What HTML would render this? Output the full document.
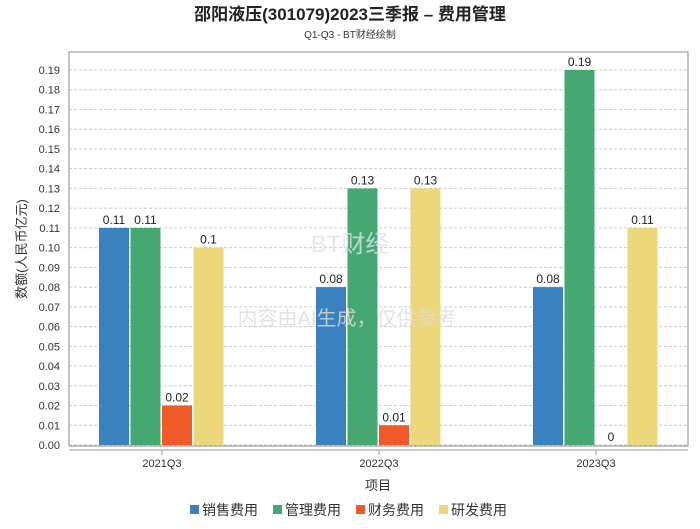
<!DOCTYPE html>
<html><head><meta charset="utf-8"><style>
body{margin:0;background:#fff;}
svg text{font-family:"Liberation Sans","Noto Sans CJK SC",sans-serif;}
</style></head><body>
<svg id="chart" width="700" height="524" xmlns="http://www.w3.org/2000/svg">
<text x="350" y="20" text-anchor="middle" font-size="17" font-weight="bold" fill="#222">邵阳液压(301079)2023三季报 – 费用管理</text>
<text x="350" y="38" text-anchor="middle" font-size="10" fill="#333">Q1-Q3 - BT财经绘制</text>
<rect x="69" y="52" width="619" height="394" fill="none" stroke="#888" stroke-width="1"/>
<g id="grid"></g><g id="yticks"></g><g id="bars"></g><g id="xticks"></g>
<text x="347" y="325" text-anchor="middle" font-size="20" fill="#ddd" opacity="0.8">内容由AI生成，仅供参考</text>
<text x="350" y="252" text-anchor="middle" font-size="24" fill="#dde3ec" font-family="Liberation Serif" opacity="0.8">BT财经</text>
<line x1="69" y1="450" x2="688" y2="450" stroke="#999"/>
<text transform="translate(26,249) rotate(-90)" text-anchor="middle" font-size="13" fill="#333">数额(人民币亿元)</text>
<text x="378" y="490" text-anchor="middle" font-size="13" fill="#333">项目</text>
<g id="legend"></g>
</svg>
<script>
const categories=["2021Q3","2022Q3","2023Q3"];
const seriesNames=["销售费用","管理费用","财务费用","研发费用"];
const colors=["#3a81bf","#45a872","#f05a28","#ecd77a"];
const sales=[0.11,0.08,0.08];
const admin=[0.11,0.13,0.19];
const finance=[0.02,0.01,0];
const rnd=[0.10,0.13,0.11];
const yTicks=[0,0.01,0.02,0.03,0.04,0.05,0.06,0.07,0.08,0.09,0.10,0.11,0.12,0.13,0.14,0.15,0.16,0.17,0.18,0.19];
const series=[sales,admin,finance,rnd];
const NS="http://www.w3.org/2000/svg";
const y=v=>445-v*(375/0.19);
const xc=i=>162+i*217;
function mk(t,a,p){const e=document.createElementNS(NS,t);for(const k in a)e.setAttribute(k,a[k]);p.appendChild(e);return e;}
const grid=document.getElementById('grid'),yt=document.getElementById('yticks');
yTicks.forEach(v=>{
 const l=mk('line',{x1:69,x2:688,y1:y(v),y2:y(v),stroke:'#ccc','stroke-dasharray':'3,2'},grid);
 
 
 const t=mk('text',{x:60,y:y(v)+4,'text-anchor':'end','font-size':11,fill:'#333'},yt);
 t.textContent=v.toFixed(2);
 
 
});
const bars=document.getElementById('bars'),xt=document.getElementById('xticks');
categories.forEach((c,i)=>{
 series.forEach((s,j)=>{
  const bx=xc(i)-63+j*31.5;
  const r=mk('rect',{x:bx,y:y(s[i]),width:30,height:445-y(s[i]),fill:colors[j]},bars);
  
  
  const t=mk('text',{x:bx+15,y:y(s[i])-4,'text-anchor':'middle','font-size':12,fill:'#222'},bars);
  t.textContent=String(s[i]);
  
  
 });
 const tk=mk('line',{x1:xc(i),x2:xc(i),y1:450,y2:455,stroke:'#999'},xt);
 
 
 const t=mk('text',{x:xc(i),y:467,'text-anchor':'middle','font-size':11,fill:'#333'},xt);
 t.textContent=c;
 
 
});
const lg=document.getElementById('legend');
const lx=[190,273,356,439];
seriesNames.forEach((n,j)=>{
 const r=mk('rect',{x:lx[j],y:505,width:9,height:9,fill:colors[j]},lg);
 
 
 const t=mk('text',{x:lx[j]+12,y:515,'font-size':14,fill:'#333'},lg);
 t.textContent=n;
 
 
});
</script>
</body></html>
